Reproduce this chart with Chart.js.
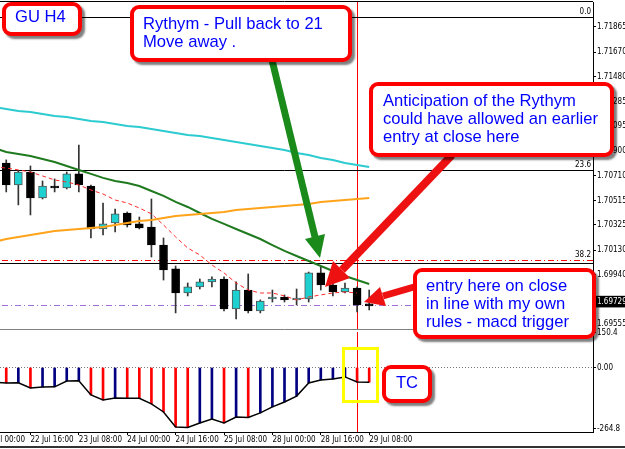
<!DOCTYPE html>
<html>
<head>
<meta charset="utf-8">
<script src="https://cdn.jsdelivr.net/npm/chart.js@4.4.1/dist/chart.umd.min.js"></script>
<style>
html, body { margin: 0; padding: 0; background: #fff; }
body { width: 625px; height: 449px; position: relative; overflow: hidden; font-family: "Liberation Sans", Arial, sans-serif; }
canvas { position: absolute; }
#price { left: -24px; top: 0; }
#macd { left: -24px; top: 323px; }
#arrows { position: absolute; left: 0; top: 0; }
.note { position: absolute; box-sizing: border-box; background: #fff; border: 4px solid #ff0000; border-radius: 9px; box-shadow: 3px 3px 2px rgba(0, 0, 0, 0.5); color: #0000ff; font-size: 16.6px; line-height: 18px; white-space: nowrap; }
#tcbox { position: absolute; box-sizing: border-box; left: 342px; top: 347px; width: 37px; height: 56px; border: 3px solid #ffff00; }
#winline { position: absolute; left: 0; top: 446px; width: 625px; height: 2px; background: #333; }
</style>
</head>
<body>
<canvas id="price" width="649" height="330"></canvas>
<canvas id="macd" width="649" height="126"></canvas>
<div id="tcbox"></div>
<svg id="arrows" width="625" height="449">
  <line x1="272" y1="60" x2="315" y2="237" stroke="#1a8a1a" stroke-width="7"/>
  <polygon points="320,258 305,239 325,234" fill="#1a8a1a"/>
  <line x1="452" y1="155" x2="342" y2="270" stroke="#ee1111" stroke-width="8"/>
  <polygon points="325,287 333,261 350,278" fill="#ee1111"/>
  <line x1="414" y1="287" x2="383" y2="296" stroke="#ee1111" stroke-width="7"/>
  <polygon points="364,302 380,287 386,306" fill="#ee1111"/>
</svg>
<div class="note" style="left:2px;top:2px;width:80px;height:34px;padding:2px 0 0 9px;">GU H4</div>
<div class="note" style="left:130px;top:5px;width:222px;height:57px;padding:6px 0 0 9px;">Rythym - Pull back to 21<br>Move away .</div>
<div class="note" style="left:369px;top:82px;width:245px;height:75px;padding:6px 0 0 10px;">Anticipation of the Rythym<br>could have allowed an earlier<br>entry at close here</div>
<div class="note" style="left:413px;top:268px;width:183px;height:71px;padding:5px 0 0 9px;">entry here on close<br>in line with my own<br>rules - macd trigger</div>
<div class="note" style="left:382px;top:365px;width:50px;height:38px;padding:5px 0 0 0;text-align:center;">TC</div>
<div id="winline"></div>
<script>
document.addEventListener("DOMContentLoaded", function() {
    'use strict';

    // H4 bars, GBPUSD
    var times = ['22 Jul 00:00', '22 Jul 04:00', '22 Jul 08:00', '22 Jul 12:00', '22 Jul 16:00', '22 Jul 20:00',
        '23 Jul 00:00', '23 Jul 04:00', '23 Jul 08:00', '23 Jul 12:00', '23 Jul 16:00', '23 Jul 20:00',
        '24 Jul 00:00', '24 Jul 04:00', '24 Jul 08:00', '24 Jul 12:00', '24 Jul 16:00', '24 Jul 20:00',
        '25 Jul 00:00', '25 Jul 04:00', '25 Jul 08:00', '25 Jul 12:00', '25 Jul 16:00', '25 Jul 20:00',
        '28 Jul 00:00', '28 Jul 04:00', '28 Jul 08:00', '28 Jul 12:00', '28 Jul 16:00', '28 Jul 20:00',
        '29 Jul 00:00', '29 Jul 04:00', '29 Jul 08:00'];

    var open = [null, null, 1.70807, 1.70636, 1.70737, 1.70535, 1.70628, 1.70613, 1.70722, 1.70628, 1.70294, 1.70341,
        1.70418, 1.70333, 1.70309, 1.70169, 1.69983, 1.69796, 1.69843, 1.69882, 1.69905, 1.69672, 1.69819, 1.69656,
        1.69749, 1.69765, 1.69742, 1.69749, 1.69952, 1.69858, 1.69804, 1.69835, 1.69711];
    var high = [null, null, 1.70831, 1.70745, 1.70784, 1.70667, 1.70683, 1.70737, 1.70947, 1.70636, 1.70496, 1.70449,
        1.70426, 1.70387, 1.70527, 1.70224, 1.70006, 1.69874, 1.69905, 1.69921, 1.69921, 1.69882, 1.69944, 1.69742,
        1.69819, 1.69781, 1.69827, 1.69959, 1.69998, 1.69874, 1.69874, 1.69843, 1.69819];
    var low = [null, null, 1.70582, 1.70481, 1.70403, 1.70527, 1.70582, 1.70605, 1.70582, 1.70224, 1.70247, 1.70271,
        1.70309, 1.70294, 1.70076, 1.69897, 1.69641, 1.69773, 1.69827, 1.69843, 1.69656, 1.69594, 1.69641, 1.69641,
        1.69726, 1.69726, 1.69703, 1.69726, 1.69819, 1.69773, 1.69796, 1.69648, 1.69664];
    var close = [null, null, 1.70636, 1.70737, 1.70535, 1.70628, 1.70613, 1.70722, 1.70636, 1.70294, 1.70333, 1.70411,
        1.70325, 1.70302, 1.70169, 1.69975, 1.69796, 1.69843, 1.69882, 1.69905, 1.69672, 1.69819, 1.69656, 1.69734,
        1.69765, 1.69742, 1.69757, 1.69952, 1.69858, 1.69804, 1.69835, 1.69703, 1.69695];

    // moving averages
    var maCyan = [null, 1.71243, 1.71227, 1.71212, 1.71204, 1.71188, 1.71173, 1.71165, 1.71149, 1.71134, 1.71126,
        1.71111, 1.71095, 1.71087, 1.71072, 1.71056, 1.71041, 1.71025, 1.71017, 1.71002, 1.70986, 1.70971, 1.70955,
        1.70939, 1.70924, 1.70908, 1.70885, 1.70869, 1.70846, 1.70831, 1.70807, 1.70792, 1.70776];
    var maOrange = [null, 1.70193, 1.70216, 1.70232, 1.70247, 1.70263, 1.70278, 1.70286, 1.70294, 1.70302, 1.70309,
        1.70325, 1.70341, 1.70356, 1.70364, 1.70379, 1.70395, 1.70403, 1.70411, 1.70418, 1.70426, 1.70442, 1.70449,
        1.70457, 1.70465, 1.70473, 1.70481, 1.70488, 1.70504, 1.70512, 1.70519, 1.70527, 1.70535];
    var maGreen = [null, 1.70924, 1.70893, 1.70877, 1.70862, 1.70838, 1.70815, 1.70784, 1.70753, 1.70722, 1.70691,
        1.70667, 1.70652, 1.70628, 1.70589, 1.70551, 1.70504, 1.70465, 1.70418, 1.70372, 1.70333, 1.70294, 1.70255,
        1.70216, 1.70169, 1.70123, 1.70084, 1.70045, 1.70006, 1.69967, 1.69928, 1.69897, 1.69866];
    var maRed = [null, 1.70776, 1.70768, 1.70753, 1.70737, 1.70706, 1.70675, 1.70659, 1.70636, 1.70597, 1.70566,
        1.70519, 1.70496, 1.70457, 1.70411, 1.70325, 1.70232, 1.70146, 1.70092, 1.70014, 1.69952, 1.69874, 1.69819,
        1.69796, 1.69796, 1.69773, 1.69742, 1.69765, 1.69781, 1.69796, 1.69804, 1.69796, null];

    var macd = [null, -64, -67, -66, -89, -85, -84, -59, -58, -119, -141, -132, -133, -134, -158, -193, -258,
        -260, -241, -224, -241, -215, -217, -197, -171, -150, -124, -67, -54, -50, -41, -63, -64];

    var priceTicks = [1.71865, 1.71670, 1.71480, 1.71285, 1.71095, 1.70900, 1.70710, 1.70515, 1.70325, 1.70130,
        1.69940, 1.69729, 1.69555];
    var currentPrice = 1.69729;
    var macdTicks = [150.4, 0, -264.8];
    var fibPrices = [1.71943, 1.70753, 1.70053];
    var fibNames = ['0.0', '23.6', '38.2'];
    var hLines = [1.71943, 1.70753, 1.70029];
    var entryLine = 1.69703;
    var markerTime = '29 Jul 04:00';

    var FONT = '"Liberation Sans Narrow", "DejaVu Sans Condensed", "Liberation Sans", sans-serif';
    Chart.defaults.font.family = FONT;
    Chart.defaults.font.size = 8;
    Chart.defaults.color = '#000';

    // empty slots on the right (chart shift)
    var slots = times.concat(new Array(18).fill(''));
    var markerIndex = times.indexOf(markerTime);

    var bodies = open.map(function(o, i) { return o === null ? null : [o, close[i]]; });
    var wicks = open.map(function(o, i) { return o === null ? null : [low[i], high[i]]; });
    var bodyColors = open.map(function(o, i) { return o !== null && close[i] >= o ? '#1fd0d0' : '#000'; });
    var bodyBorders = open.map(function(o, i) { return o !== null && close[i] >= o ? '#555' : '#000'; });
    var histColors = macd.map(function(v, i) {
        var prev = i > 0 ? macd[i - 1] : null;
        return prev !== null && v < prev ? '#ff0000' : '#000080';
    });

    function noPad(scale) {
        scale.paddingTop = 0;
        scale.paddingBottom = 0;
        scale.paddingLeft = 0;
        scale.paddingRight = 0;
    }

    function hline(ctx, area, y, color, dash) {
        ctx.strokeStyle = color;
        ctx.lineWidth = 1;
        ctx.setLineDash(dash || []);
        ctx.beginPath();
        ctx.moveTo(area.left, Math.round(y) + 0.5);
        ctx.lineTo(area.right, Math.round(y) + 0.5);
        ctx.stroke();
    }

    function vline(chart) {
        var ctx = chart.ctx, area = chart.chartArea;
        var x = Math.round(chart.scales.x.getPixelForValue(markerIndex)) + 0.5;
        ctx.strokeStyle = '#ff0000';
        ctx.lineWidth = 1;
        ctx.setLineDash([]);
        ctx.beginPath();
        ctx.moveTo(x, area.top);
        ctx.lineTo(x, area.bottom);
        ctx.stroke();
    }

    var pricePlugin = {
        id: 'priceLevels',
        beforeDatasetsDraw: function(chart) {
            var ctx = chart.ctx, area = chart.chartArea, y = chart.scales.y;
            ctx.save();
            vline(chart);
            hLines.forEach(function(p) { hline(ctx, area, y.getPixelForValue(p), '#000'); });
            hline(ctx, area, y.getPixelForValue(fibPrices[2]), '#ff0000', [6, 3, 1, 3]);
            hline(ctx, area, y.getPixelForValue(entryLine), '#a070d8', [6, 3, 1, 3]);
            ctx.fillStyle = '#000';
            ctx.font = '8px ' + FONT;
            ctx.textAlign = 'right';
            ctx.textBaseline = 'bottom';
            fibPrices.forEach(function(p, i) {
                ctx.fillText(fibNames[i], area.right - 2, y.getPixelForValue(p) - 1);
            });
            ctx.restore();
        },
        afterDraw: function(chart) {
            var ctx = chart.ctx, area = chart.chartArea;
            ctx.save();
            hline(ctx, area, area.top - 1, '#000');
            hline(ctx, area, area.bottom, '#808080');
            ctx.restore();
        }
    };

    var macdPlugin = {
        id: 'macdLevels',
        beforeDatasetsDraw: function(chart) {
            var ctx = chart.ctx, area = chart.chartArea;
            ctx.save();
            hline(ctx, area, chart.scales.y.getPixelForValue(0), '#777', [1, 2]);
            vline(chart);
            ctx.restore();
        }
    };

    new Chart(document.getElementById('price'), {
        type: 'bar',
        data: {
            labels: slots,
            datasets: [
                { type: 'line', data: maCyan, borderColor: '#2ccbd0', borderWidth: 2, pointRadius: 0, order: 1 },
                { type: 'line', data: maOrange, borderColor: '#ffa31a', borderWidth: 2, pointRadius: 0, order: 1 },
                { type: 'line', data: maGreen, borderColor: '#1f7a1f', borderWidth: 2, pointRadius: 0, order: 1 },
                { type: 'line', data: maRed, borderColor: '#ff2a2a', borderWidth: 1, borderDash: [4, 3], pointRadius: 0, order: 1 },
                { data: bodies, backgroundColor: bodyColors, borderColor: bodyBorders, borderWidth: 1, borderSkipped: false, barThickness: 8, grouped: false, order: 2 },
                { data: wicks, backgroundColor: '#333', barThickness: 1, grouped: false, order: 3 }
            ]
        },
        options: {
            responsive: false,
            animation: false,
            devicePixelRatio: 1,
            layout: { padding: { top: 2, bottom: 1, left: 0, right: 0 } },
            plugins: { legend: { display: false }, tooltip: { enabled: false } },
            scales: {
                x: { display: false, offset: true, grid: { offset: false } },
                y: {
                    position: 'right',
                    min: 1.69516,
                    max: 1.72059,
                    afterFit: function(scale) { scale.width = 32; noPad(scale); },
                    afterBuildTicks: function(scale) {
                        scale.ticks = priceTicks.map(function(v) { return { value: v }; });
                    },
                    ticks: {
                        autoSkip: false,
                        padding: 1,
                        callback: function(v) { return v.toFixed(5); },
                        showLabelBackdrop: function(c) { return c.tick && c.tick.value === currentPrice; },
                        backdropColor: '#000',
                        backdropPadding: { top: 1, bottom: 1, left: 1, right: 6 },
                        color: function(c) { return c.tick && c.tick.value === currentPrice ? '#fff' : '#000'; }
                    },
                    grid: { drawOnChartArea: false, tickLength: 3, color: '#000' },
                    border: { display: true, color: '#000' }
                }
            }
        },
        plugins: [pricePlugin]
    });

    new Chart(document.getElementById('macd'), {
        type: 'bar',
        data: {
            labels: slots,
            datasets: [
                { type: 'line', data: macd, borderColor: '#000', borderWidth: 1.5, pointRadius: 0, order: 1 },
                { data: macd, backgroundColor: histColors, barThickness: 2, order: 2 }
            ]
        },
        options: {
            responsive: false,
            animation: false,
            devicePixelRatio: 1,
            layout: { padding: { top: 9, bottom: 0, left: 0, right: 0 } },
            plugins: { legend: { display: false }, tooltip: { enabled: false } },
            scales: {
                x: {
                    offset: true,
                    afterFit: function(scale) { scale.height = 17; noPad(scale); },
                    ticks: {
                        autoSkip: false,
                        maxRotation: 0,
                        align: 'start',
                        padding: 0,
                        callback: function(v, i) { return i % 4 === 0 && i < times.length ? times[i] : null; }
                    },
                    grid: { drawOnChartArea: false, offset: false, tickLength: 3, color: '#000' },
                    border: { display: true, color: '#000' }
                },
                y: {
                    position: 'right',
                    min: -280,
                    max: 154,
                    afterFit: function(scale) { scale.width = 32; noPad(scale); },
                    afterBuildTicks: function(scale) {
                        scale.ticks = macdTicks.map(function(v) { return { value: v }; });
                    },
                    ticks: {
                        autoSkip: false,
                        padding: 1,
                        callback: function(v) { return v === 0 ? '0.00' : String(v); }
                    },
                    grid: { drawOnChartArea: false, tickLength: 3, color: '#000' },
                    border: { display: true, color: '#000' }
                }
            }
        },
        plugins: [macdPlugin]
    });
});
</script>
</body>
</html>
